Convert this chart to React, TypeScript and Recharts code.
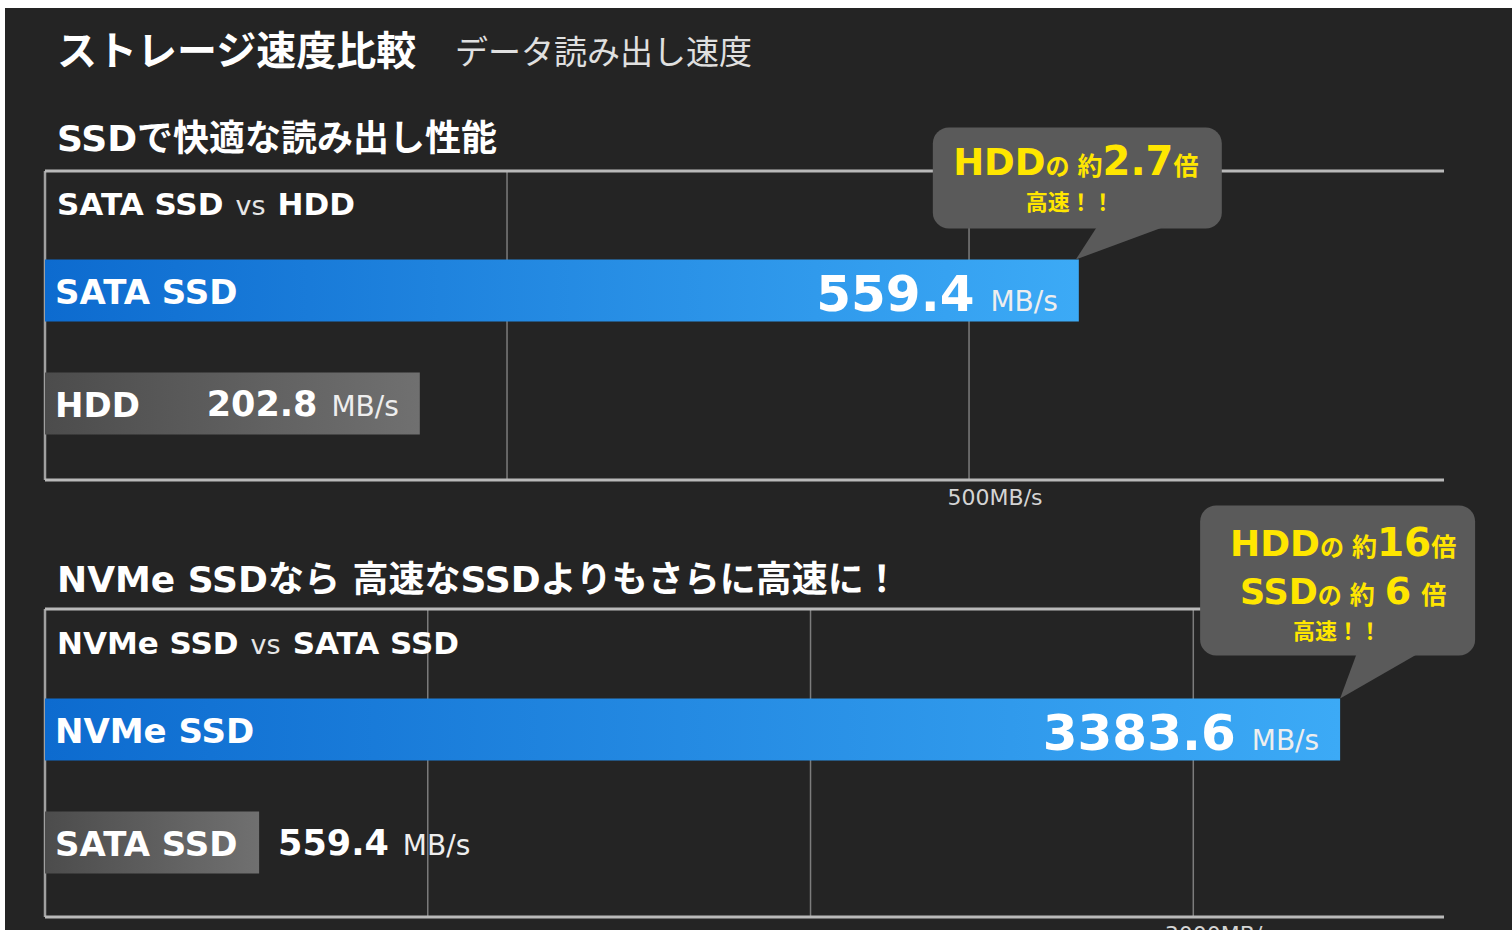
import React from 'react';
import { BarChart, Bar, XAxis, YAxis, CartesianGrid, Cell, LabelList } from 'recharts';

const LATIN = '"DejaVu Sans", "Noto Sans CJK JP", sans-serif';
const JP = '"Noto Sans CJK JP", "DejaVu Sans", sans-serif';

// ---------- data ----------
const chart1Categories = ['SATA SSD', 'HDD'];
const chart1Values = [559.4, 202.8];
const chart1Ticks = [250, 500];
const chart1TickLabels = ['', '500MB/s'];
const chart1Max = 757;

const chart2Categories = ['NVMe SSD', 'SATA SSD'];
const chart2Values = [3383.6, 559.4];
const chart2Ticks = [1000, 2000, 3000];
const chart2TickLabels = ['', '', '3000MB/s'];
const chart2Max = 3655;

const unitLabel = 'MB/s';
const mainTitle = 'ストレージ速度比較';
const subTitle = 'データ読み出し速度';
const section1Title = 'SSDで快適な読み出し性能';
const section2Title = 'NVMe SSDなら 高速なSSDよりもさらに高速に！';
const chart1Header = ['SATA SSD', 'vs', 'HDD'];
const chart2Header = ['NVMe SSD', 'vs', 'SATA SSD'];

type Seg = { t: string; s: number; dx?: number };
const callout1Lines: Seg[][] = [
  [{ t: 'HDD', s: 37 }, { t: 'の', s: 24 }, { t: '約', s: 25, dx: 8 }, { t: '2.7', s: 40 }, { t: '倍', s: 25 }],
  [{ t: '高速！！', s: 22 }],
];
const callout2Lines: Seg[][] = [
  [{ t: 'HDD', s: 36 }, { t: 'の', s: 24 }, { t: '約', s: 25, dx: 8 }, { t: '16', s: 39 }, { t: '倍', s: 25 }],
  [{ t: 'SSD', s: 35 }, { t: 'の', s: 24 }, { t: '約', s: 25, dx: 8 }, { t: '6', s: 38, dx: 10 }, { t: '倍', s: 25, dx: 10 }],
  [{ t: '高速！！', s: 22 }],
];

type Geom = { x0: number; x1: number; y0: number; y1: number; ta: number; tb: number; tip: number; cx: number[]; base: number[] };
const geom1: Geom = { x0: -146, x1: 143, y0: -132, y1: -31, ta: 19, tb: 89, tip: -3, cx: [-3, -9], base: [-85, -50] };
const geom2: Geom = { x0: -140, x1: 135, y0: -193, y1: -43, ta: 17, tb: 80, tip: 0, cx: [3, 3, -3], base: [-143, -95, -60] };

type ChartProps = {
  id: string;
  categories: string[];
  values: number[];
  ticks: number[];
  tickLabels: string[];
  max: number;
  top: number;
  height: number;
  marginTop: number;
  marginBottom: number;
  axisHeight: number;
  padTop: number;
  padBottom: number;
  lines: Seg[][];
  geom: Geom;
};

function Callout({ end, top, lines, g }: { end: number; top: number; lines: Seg[][]; g: Geom }) {
  return (
    <g>
      <rect x={end + g.x0} y={top + g.y0} width={g.x1 - g.x0} height={g.y1 - g.y0} rx={16} ry={16} fill="#5a5a5a" />
      <polygon
        points={`${end + g.ta},${top + g.y1 - 3} ${end + g.tb},${top + g.y1 - 3} ${end + g.tip},${top}`}
        fill="#5a5a5a"
      />
      {lines.map((segs, li) => (
        <text
          key={li}
          x={end + g.cx[li]}
          y={top + g.base[li]}
          textAnchor="middle"
          fill="#ffe600"
          fontWeight={700}
          fontFamily={LATIN}
        >
          {segs.map((s, si) => (
            <tspan key={si} fontSize={s.s} dx={s.dx || 0}>
              {s.t}
            </tspan>
          ))}
        </text>
      ))}
    </g>
  );
}

function SpeedChart(p: ChartProps) {
  const data = p.categories.map((name, i) => ({ name, value: p.values[i] }));
  const blue = `blue-${p.id}`;
  const gray = `gray-${p.id}`;

  const renderLabel = (lp: any) => {
    const x = Number(lp.x);
    const y = Number(lp.y);
    const w = Number(lp.width);
    const h = Number(lp.height);
    const idx = typeof lp.index === 'number' ? lp.index : data.findIndex((d) => d.value === lp.value);
    const row = data[idx];
    if (!row) return null;
    const cy = y + h / 2;
    const end = x + w;
    const big = idx === 0;
    const vs = big ? 50 : 35;
    const inside = w > 330;
    return (
      <g>
        <text x={x + 10} y={cy + 0.365 * 34 + 1} fill="#fff" fontSize={34} fontWeight={700} fontFamily={LATIN}>
          {row.name}
        </text>
        <text
          x={inside ? end - 21 : end + 19}
          y={cy + 0.365 * vs + (big ? 2 : 0)}
          textAnchor={inside ? 'end' : 'start'}
          fill="#fff"
          fontFamily={LATIN}
        >
          <tspan fontSize={vs} fontWeight={700}>
            {row.value.toFixed(1)}
          </tspan>
          <tspan fontSize={28} fontWeight={400} fill="#eeeeee" dx={big ? 16 : 14}>
            {unitLabel}
          </tspan>
        </text>
        {big ? <Callout end={end} top={y} lines={p.lines} g={p.geom} /> : null}
      </g>
    );
  };

  const renderTick = (tp: any) => {
    const i = p.ticks.indexOf(tp.payload.value);
    const label = p.tickLabels[i];
    if (!label) return <g />;
    return (
      <text
        x={tp.x + 26}
        y={tp.y + 17}
        textAnchor="middle"
        fontSize={22}
        fill="#d4d4d4"
        fontFamily={LATIN}
      >
        {label}
      </text>
    );
  };

  const topLine = (gp: any) => {
    const off = gp && gp.offset ? gp.offset : { top: p.marginTop };
    return [off.top];
  };

  const leftLine = (gp: any) => {
    const off = gp && gp.offset ? gp.offset : { left: 40 };
    return [off.left];
  };

  const gridX = (gp: any) => {
    const ax = gp ? gp.xAxis : undefined;
    if (ax && typeof ax.scale === 'function') {
      return p.ticks.map((t) => ax.scale(t));
    }
    const off = gp.offset;
    return p.ticks.map((t) => off.left + (t / p.max) * off.width);
  };

  return (
    <div style={{ position: 'absolute', left: 0, top: p.top }}>
      <BarChart
        width={1507}
        height={p.height}
        data={data}
        layout="vertical"
        margin={{ top: p.marginTop, right: 68, bottom: p.marginBottom, left: 40 }}
        barSize={62}
      >
        <defs>
          <linearGradient id={blue} x1="0" y1="0" x2="1" y2="0">
            <stop offset="0%" stopColor="#0d6bcf" />
            <stop offset="100%" stopColor="#3caaf6" />
          </linearGradient>
          <linearGradient id={gray} x1="0" y1="0" x2="1" y2="0">
            <stop offset="0%" stopColor="#4c4c4c" />
            <stop offset="100%" stopColor="#707070" />
          </linearGradient>
        </defs>
        <CartesianGrid
          horizontal={false}
          vertical
          verticalCoordinatesGenerator={gridX}
          stroke="#7c7c7c"
          strokeWidth={1.5}
        />
        <CartesianGrid
          horizontal={false}
          vertical
          verticalCoordinatesGenerator={leftLine}
          stroke="#a0a0a0"
          strokeWidth={2.5}
        />
        <CartesianGrid
          vertical={false}
          horizontal
          horizontalCoordinatesGenerator={topLine}
          stroke="#b9b9b9"
          strokeWidth={3}
        />
        <XAxis
          type="number"
          domain={[0, p.max]}
          ticks={p.ticks}
          tick={renderTick}
          tickLine={false}
          height={p.axisHeight}
          axisLine={{ stroke: '#b9b9b9', strokeWidth: 3 }}
        />
        <YAxis
          type="category"
          dataKey="name"
          width={0}
          tick={false}
          tickLine={false}
          axisLine={{ stroke: '#a0a0a0', strokeWidth: 2.5 }}
          padding={{ top: p.padTop, bottom: p.padBottom }}
        />
        <Bar dataKey="value" isAnimationActive={false}>
          {data.map((d, i) => (
            <Cell key={d.name} fill={i === 0 ? `url(#${blue})` : `url(#${gray})`} />
          ))}
          <LabelList dataKey="value" content={renderLabel} />
        </Bar>
      </BarChart>
    </div>
  );
}

function Header({ x, y, parts }: { x: number; y: number; parts: string[] }) {
  return (
    <text x={x} y={y} fill="#fff" fontFamily={LATIN}>
      <tspan fontSize={31} fontWeight={700}>{parts[0]}</tspan>
      <tspan fontSize={27} fontWeight={400} fill="#e6e6e6" dx={12}>{parts[1]}</tspan>
      <tspan fontSize={31} fontWeight={700} dx={12}>{parts[2]}</tspan>
    </text>
  );
}

export default function App() {
  return (
    <div
      style={{
        position: 'absolute',
        left: 5,
        top: 8,
        width: 1507,
        height: 922,
        background: '#242424',
        overflow: 'hidden',
      }}
    >
      <SpeedChart
        id="c1"
        categories={chart1Categories}
        values={chart1Values}
        ticks={chart1Ticks}
        tickLabels={chart1TickLabels}
        max={chart1Max}
        top={0}
        height={520}
        marginTop={163}
        marginBottom={18}
        axisHeight={30}
        padTop={62.5}
        padBottom={20.5}
        lines={callout1Lines}
        geom={geom1}
      />
      <SpeedChart
        id="c2"
        categories={chart2Categories}
        values={chart2Values}
        ticks={chart2Ticks}
        tickLabels={chart2TickLabels}
        max={chart2Max}
        top={440}
        height={482}
        marginTop={161}
        marginBottom={0}
        axisHeight={13}
        padTop={63.5}
        padBottom={18.5}
        lines={callout2Lines}
        geom={geom2}
      />
      <svg
        width={1507}
        height={922}
        style={{ position: 'absolute', left: 0, top: 0, pointerEvents: 'none' }}
      >
        <text x={52} y={57} fill="#fff" fontSize={40} fontWeight={700} fontFamily={JP}>
          {mainTitle}
        </text>
        <text x={450} y={56} fill="#e0e0e0" fontSize={33} fontWeight={400} fontFamily={JP}>
          {subTitle}
        </text>
        <text x={52} y={143} fill="#fff" fontSize={36} fontWeight={700} fontFamily={LATIN}>
          {section1Title}
        </text>
        <text x={52} y={584} fill="#fff" fontSize={36} fontWeight={700} fontFamily={LATIN}>
          {section2Title}
        </text>
        <Header x={52} y={207} parts={chart1Header} />
        <Header x={52} y={646} parts={chart2Header} />
      </svg>
    </div>
  );
}
